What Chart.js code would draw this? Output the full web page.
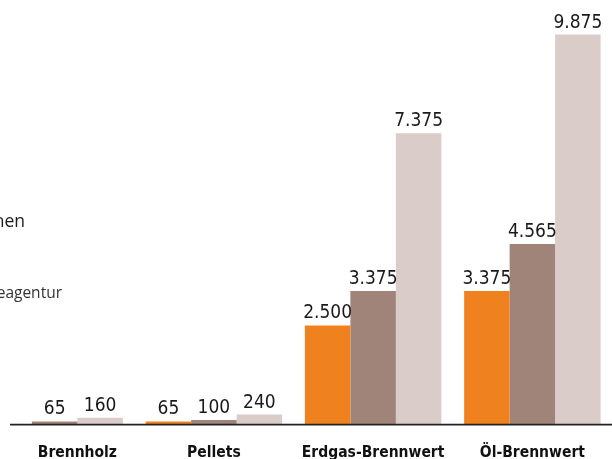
<!DOCTYPE html>
<html lang="de">
<head>
<meta charset="utf-8">
<script src="https://cdn.jsdelivr.net/npm/chart.js@4/dist/chart.umd.min.js"></script>
<style>
  html, body { margin: 0; padding: 0; background: #fff; overflow: hidden; }
  #frame { position: relative; width: 612px; height: 459px; overflow: hidden; }
  #holder { position: absolute; left: -25px; top: 0; width: 637px; height: 459px; }
  .side { position: absolute; white-space: nowrap; font-family: "Open Sans", sans-serif; text-align: right; line-height: 1.2; }
  #title { right: 587px; top: 210px; font-size: 17.5px; color: #1a1a1a; }
  #source { right: 550px; top: 283px; font-size: 15.5px; color: #333; }
</style>
</head>
<body>
<div id="frame">
  <div id="holder"><canvas id="c"></canvas></div>
  <div class="side" id="title">Jährliche CO₂-Emissionen in kg bei verschiedenen Wohnflächen</div>
  <div class="side" id="source">Quelle: Deutsche Energieagentur</div>
</div>
<script>
const categories = ['Brennholz', 'Pellets', 'Erdgas-Brennwert', 'Öl-Brennwert'];
const seriesNames = ['Neubau', 'Altbau saniert', 'Altbau unsaniert'];
const seriesOrange = [null, 65, 2500, 3375];
const seriesBrown = [65, 100, 3375, 4565];
const seriesLight = [160, 240, 7375, 9875];
const yMin = 0;
const yMax = 10000;

const colors = ['#EF821E', '#A0847A', '#DACCC8'];

function fmt(v) {
  return String(v).replace(/\B(?=(\d{3})+(?!\d))/g, '.');
}

const labelPlugin = {
  id: 'labelPlugin',
  afterDatasetsDraw(chart) {
    const ctx = chart.ctx;
    const area = chart.chartArea;
    ctx.save();
    // value labels
    ctx.fillStyle = '#1a1a1a';
    ctx.font = '19px "Liberation Sans Narrow", "DejaVu Sans Condensed", sans-serif';
    ctx.textAlign = 'center';
    ctx.textBaseline = 'alphabetic';
    chart.data.datasets.forEach((ds, i) => {
      const meta = chart.getDatasetMeta(i);
      meta.data.forEach((bar, j) => {
        const v = ds.data[j];
        if (v === null || v === undefined) return;
        ctx.fillText(fmt(v), bar.x, bar.y - 7);
      });
    });
    // axis line
    ctx.strokeStyle = '#222';
    ctx.lineWidth = 1.6;
    ctx.beginPath();
    ctx.moveTo(area.left + 35, area.bottom + 0.6);
    ctx.lineTo(area.right, area.bottom + 0.6);
    ctx.stroke();
    // category labels centred over the drawn bars
    ctx.font = 'bold 15.5px "DejaVu Sans Condensed", "DejaVu Sans", sans-serif';
    ctx.fillStyle = '#111';
    chart.data.labels.forEach((lab, j) => {
      let lo = Infinity, hi = -Infinity;
      chart.data.datasets.forEach((ds, i) => {
        const v = ds.data[j];
        if (v === null || v === undefined) return;
        const bar = chart.getDatasetMeta(i).data[j];
        lo = Math.min(lo, bar.x - bar.width / 2);
        hi = Math.max(hi, bar.x + bar.width / 2);
      });
      ctx.fillText(lab, (lo + hi) / 2, area.bottom + 33);
    });
    ctx.restore();
  }
};

new Chart(document.getElementById('c'), {
  type: 'bar',
  data: {
    labels: categories,
    datasets: [
      { label: seriesNames[0], data: seriesOrange, backgroundColor: colors[0] },
      { label: seriesNames[1], data: seriesBrown, backgroundColor: colors[1] },
      { label: seriesNames[2], data: seriesLight, backgroundColor: colors[2] }
    ]
  },
  options: {
    responsive: true,
    maintainAspectRatio: false,
    animation: false,
    layout: { padding: { top: 29.6, bottom: 35, left: 0, right: 0 } },
    datasets: { bar: { barPercentage: 1, categoryPercentage: 0.857, borderWidth: 0 } },
    plugins: { legend: { display: false }, tooltip: { enabled: false } },
    scales: {
      x: { display: false, offset: true, grid: { display: false } },
      y: { display: false, min: yMin, max: yMax }
    }
  },
  plugins: [labelPlugin]
});
</script>
</body>
</html>
